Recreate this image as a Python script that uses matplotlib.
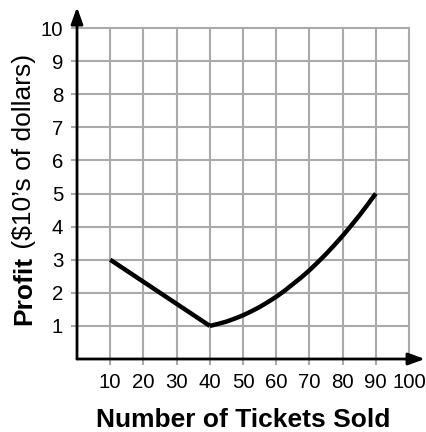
import numpy as np
import matplotlib
matplotlib.use("Agg")
import matplotlib.pyplot as plt

## 데이터
line_x = [10, 40]
line_y = [3, 1]
curve_x = [40, 42.5, 45, 47.5, 50, 52.5, 55, 57.5, 60, 62.5, 65, 67.5, 70,
           72.5, 75, 77.5, 80, 82.5, 85, 87.5, 90]
curve_y = [1.0, 1.06, 1.13, 1.22, 1.32, 1.44, 1.57, 1.72, 1.88, 2.06, 2.26,
           2.46, 2.68, 2.92, 3.17, 3.44, 3.72, 4.02, 4.33, 4.66, 5.0]
x_ticks = [10, 20, 30, 40, 50, 60, 70, 80, 90, 100]
y_ticks = [1, 2, 3, 4, 5, 6, 7, 8, 9, 10]

plt.rcParams['font.family'] = ['Liberation Sans', 'DejaVu Sans']

W, H = 427, 432
fig = plt.figure(figsize=(W / 100, H / 100), dpi=100)
ax = fig.add_axes([77 / W, (H - 359) / H, 332 / W, 331 / H])

ax.set_xlim(0, 100)
ax.set_ylim(0, 10)
ax.set_xticks(x_ticks)
ax.set_yticks(y_ticks)
ax.grid(True, color='#aaaaaa', linewidth=1.5)
ax.set_axisbelow(True)
for gl in ax.get_xgridlines() + ax.get_ygridlines():
    gl.set_clip_on(False)
ax.tick_params(direction='out', length=4, width=1.5, color='#aaaaaa',
               labelsize=14.7, pad=6, labelcolor='black')
for s in ax.spines.values():
    s.set_visible(False)

## 수익 곡선
ax.plot(line_x, line_y, color='black', linewidth=3.2, solid_capstyle='butt', clip_on=False)
ax.plot(curve_x, curve_y, color='black', linewidth=3.2, solid_capstyle='butt',
        solid_joinstyle='round', clip_on=False)

## 화살표 축
arrow = dict(arrowstyle='-|>,head_length=0.5,head_width=0.18', color='black',
             lw=2, mutation_scale=20, shrinkA=0, shrinkB=0)
ax.annotate('', xy=(0, 10.63), xytext=(0, 0), arrowprops=arrow, annotation_clip=False)
ax.annotate('', xy=(104.8, 0), xytext=(0, 0), arrowprops=arrow, annotation_clip=False)

fig.text(243 / W, 1 - 427 / H, 'Number of Tickets Sold', ha='center', va='baseline',
         fontsize=19, fontweight='bold')

## y축 라벨 (굵은 글씨 + 보통 글씨)
t1 = fig.text(24 / W, 1 - 325 / H, 'Profit', rotation=90, ha='center', va='bottom',
              fontsize=19, fontweight='bold')
fig.canvas.draw()
bb = t1.get_window_extent(renderer=fig.canvas.get_renderer())
fig.text(24 / W, bb.y1 / H, ' ($10\u2019s of dollars)', rotation=90, ha='center',
         va='bottom', fontsize=19, parse_math=False)

fig.savefig('out.png', dpi=100)
